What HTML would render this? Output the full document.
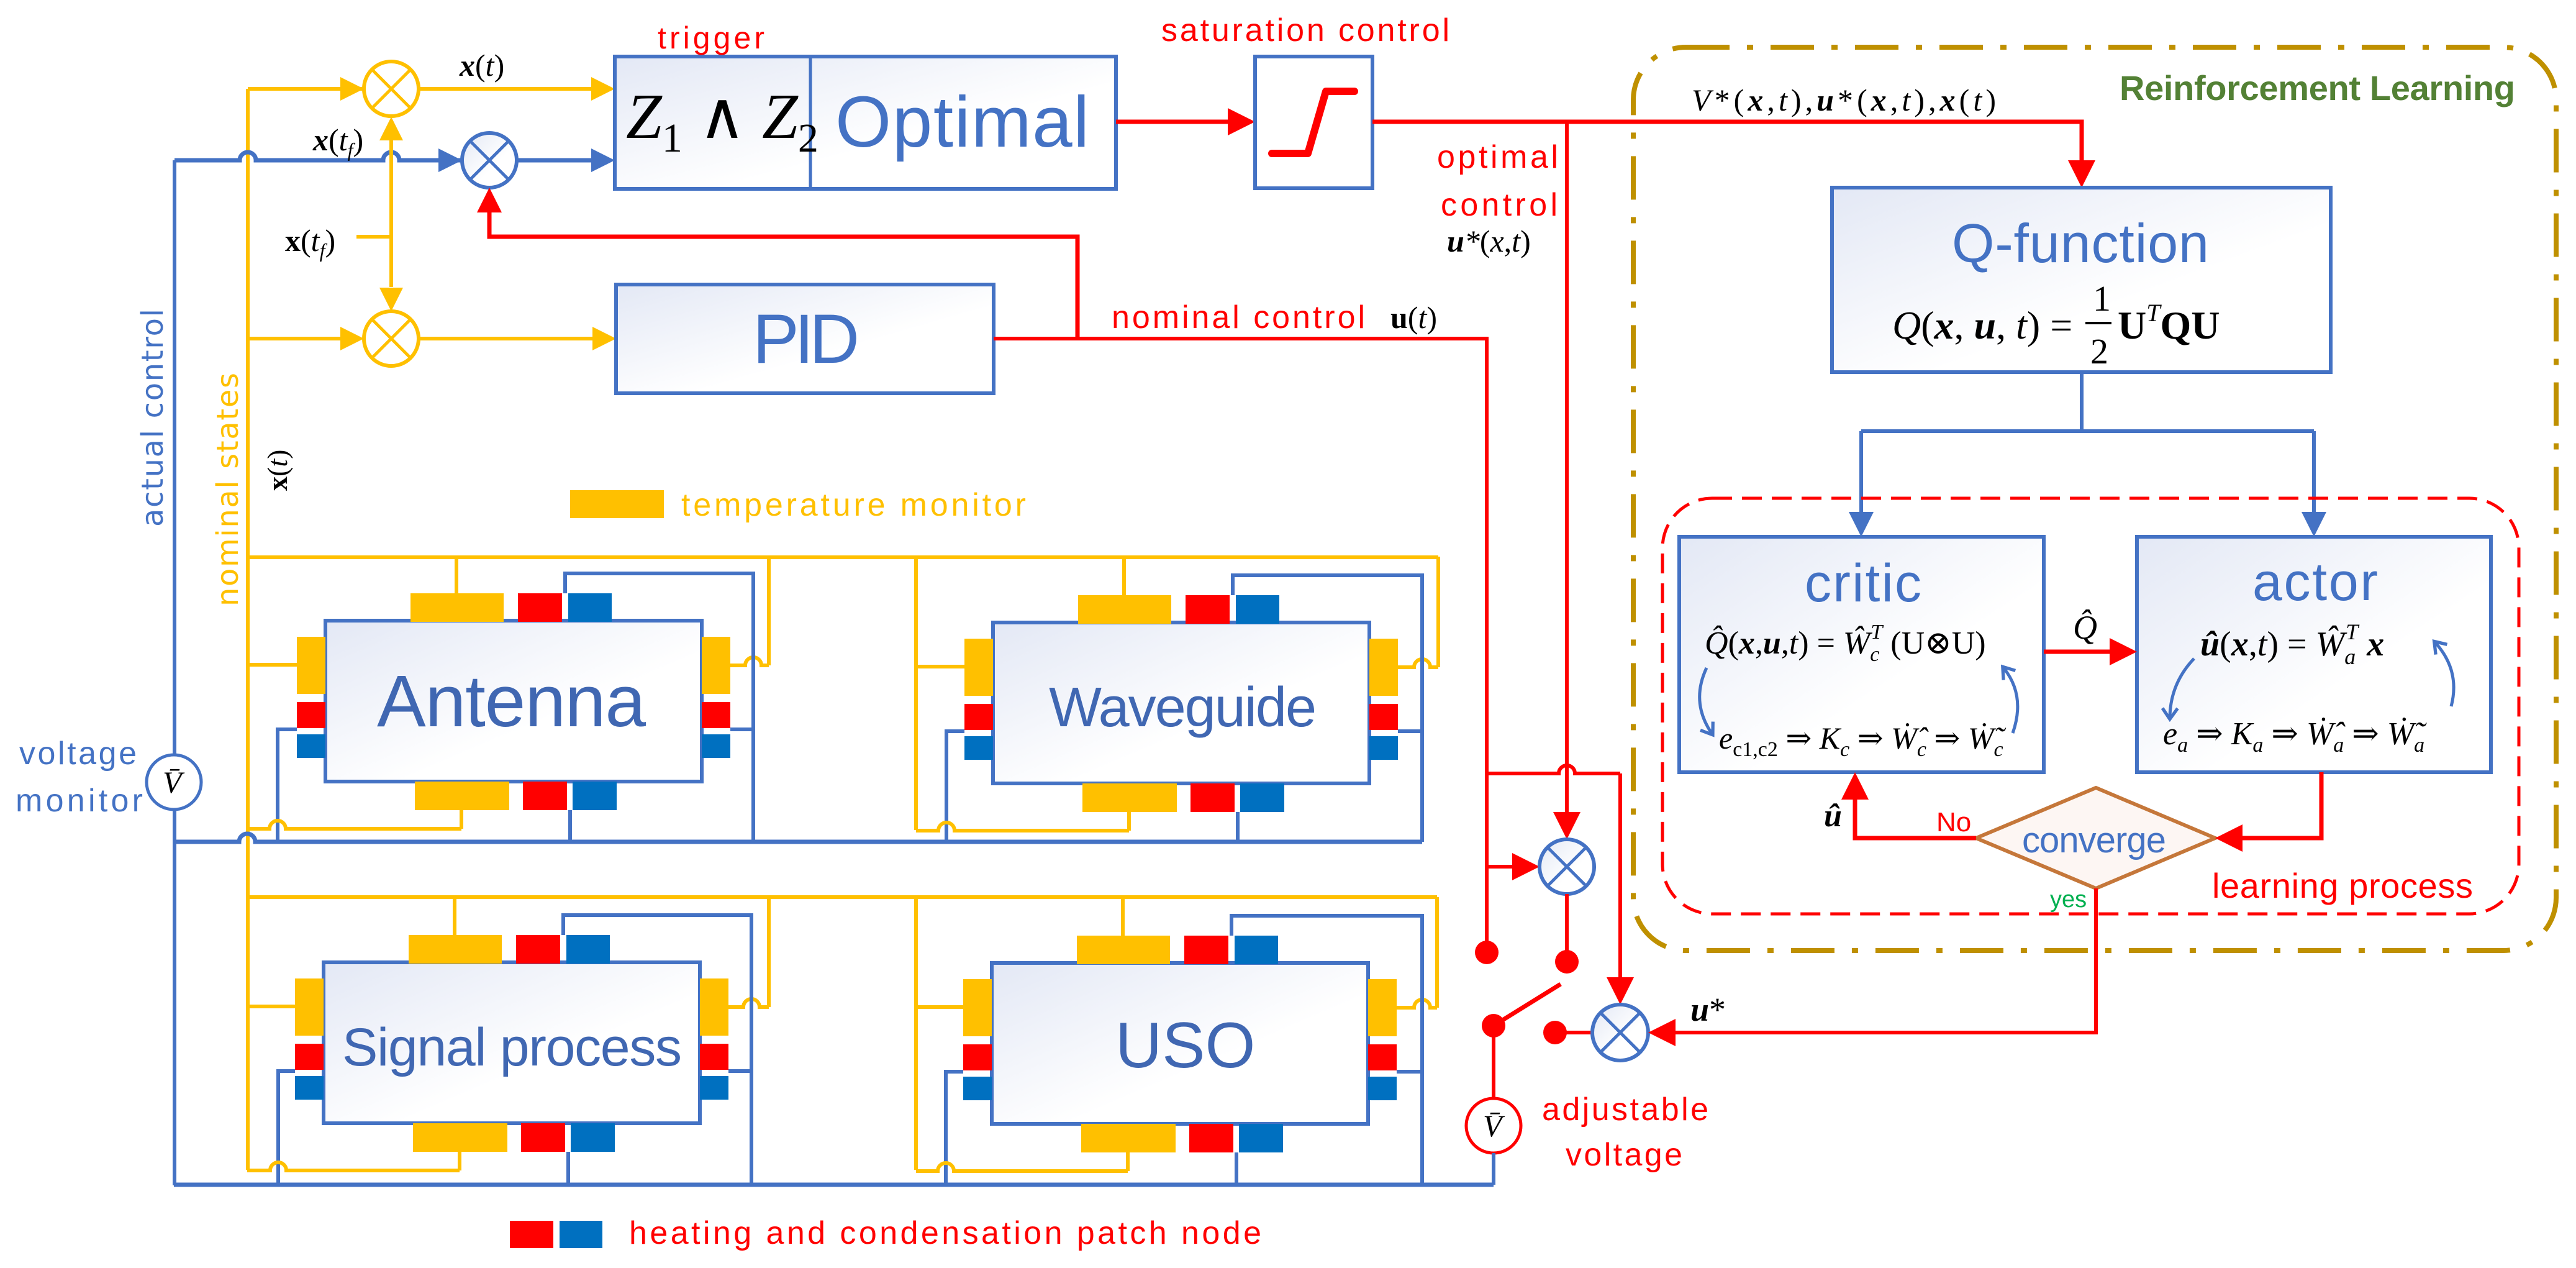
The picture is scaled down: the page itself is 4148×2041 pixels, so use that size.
<!DOCTYPE html>
<html><head><meta charset="utf-8"><style>
html,body{margin:0;padding:0;background:#fff;}
svg{display:block;}
.s{font-family:"Liberation Sans","DejaVu Sans",sans-serif;}
.m{font-family:"Liberation Serif","DejaVu Serif",serif;}
.i{font-style:italic;}
.b{font-weight:bold;}
</style></head><body>
<svg id="g" xmlns="http://www.w3.org/2000/svg" width="4148" height="2041" viewBox="0 0 4148 2041">
<defs>
<linearGradient id="gr" x1="0" y1="0" x2="1" y2="1">
<stop offset="0" stop-color="#E3E8F5"/><stop offset="0.6" stop-color="#FFFFFF"/><stop offset="1" stop-color="#FFFFFF"/>
</linearGradient>
<marker id="ca" viewBox="0 0 20 20" refX="10" refY="10" markerWidth="7" markerHeight="7" orient="auto" markerUnits="strokeWidth">
<path d="M2,3 L12,10 L2,17" fill="none" stroke="#4472C4" stroke-width="3"/></marker>
</defs>
<g id="shapes"></g>

<rect x="821" y="1965" width="70" height="44" fill="#FF0000"/>
<rect x="901" y="1965" width="69" height="44" fill="#0070C0"/>

<g class="s">
<text x="1059" y="78" font-size="50" fill="#FF0000" textLength="172">trigger</text>
<text x="1345" y="236" font-size="116" fill="#4472C4" textLength="409">Optimal</text>
<text x="1212" y="584" font-size="112" fill="#4472C4" textLength="172">PID</text>
<text x="1870" y="66" font-size="52" fill="#FF0000" textLength="464">saturation control</text>
<text x="2314" y="270" font-size="52" fill="#FF0000" textLength="195">optimal</text>
<text x="2320" y="347" font-size="52" fill="#FF0000" textLength="188">control</text>
<text x="1790" y="528" font-size="52" fill="#FF0000" textLength="408">nominal control</text>
<text x="1097" y="830" font-size="52" fill="#FFC000" textLength="555">temperature monitor</text>
<text transform="translate(262,848) rotate(-90)" font-size="48" fill="#4472C4" textLength="351" font-family="DejaVu Sans">actual control</text>
<text transform="translate(383,976) rotate(-90)" font-size="48" fill="#FFC000" textLength="376" font-family="DejaVu Sans">nominal states</text>
<text x="607" y="1169" font-size="118" fill="#4067B2" textLength="433">Antenna</text>
<text x="1689" y="1169" font-size="90" fill="#4067B2" textLength="431">Waveguide</text>
<text x="551" y="1715" font-size="86" fill="#4067B2" textLength="547">Signal process</text>
<text x="1796" y="1718" font-size="104" fill="#4067B2">USO</text>
<text x="31" y="1230" font-size="52" fill="#4472C4" textLength="189">voltage</text>
<text x="25" y="1306" font-size="52" fill="#4472C4" textLength="205">monitor</text>
<text x="1013" y="2002" font-size="52" fill="#FF0000" textLength="1018">heating and condensation patch node</text>
<text x="2483" y="1803" font-size="52" fill="#FF0000" textLength="268">adjustable</text>
<text x="2521" y="1876" font-size="52" fill="#FF0000" textLength="188">voltage</text>
<text x="3413" y="161" font-size="56" fill="#538135" font-weight="bold" textLength="637">Reinforcement Learning</text>
<text x="3143" y="422" font-size="88" fill="#4472C4" textLength="414">Q-function</text>
<text x="2906" y="968" font-size="86" fill="#4472C4" textLength="188">critic</text>
<text x="3627" y="966" font-size="86" fill="#4472C4" textLength="202">actor</text>
<text x="3256" y="1372" font-size="58" fill="#4472C4" textLength="232">converge</text>
<text x="3118" y="1338" font-size="44" fill="#FF0000">No</text>
<text x="3301" y="1460" font-size="38" fill="#00B050">yes</text>
<text x="3562" y="1445" font-size="56" fill="#FF0000" textLength="420">learning process</text>
</g>
<g class="m" fill="#000">
<text x="1008" y="222" font-size="104"><tspan class="i">Z</tspan><tspan font-size="66" dy="22">1</tspan><tspan dy="-22"> ∧ </tspan><tspan class="i">Z</tspan><tspan font-size="66" dy="22">2</tspan></text>
<text x="740" y="122" font-size="50"><tspan class="i b">x</tspan>(<tspan class="i">t</tspan>)</text>
<text x="504" y="242" font-size="50"><tspan class="i b">x</tspan>(<tspan class="i">t</tspan><tspan class="i" font-size="32" dy="10">f</tspan><tspan dy="-10">)</tspan></text>
<text x="459" y="404" font-size="50"><tspan class="b">x</tspan>(<tspan class="i">t</tspan><tspan class="i" font-size="32" dy="10">f</tspan><tspan dy="-10">)</tspan></text>
<text transform="translate(462,790) rotate(-90)" font-size="46"><tspan class="b">x</tspan>(<tspan class="i">t</tspan>)</text>
<text x="2330" y="405" font-size="50"><tspan class="i b">u</tspan><tspan class="i">*</tspan>(<tspan class="i">x</tspan>,<tspan class="i">t</tspan>)</text>
<text x="2239" y="528" font-size="50"><tspan class="b">u</tspan>(<tspan class="i">t</tspan>)</text>
<text x="2724" y="178" font-size="50" textLength="490"><tspan class="i">V</tspan>*(<tspan class="i b">x</tspan>,<tspan class="i">t</tspan>),<tspan class="i b">u</tspan>*(<tspan class="i b">x</tspan>,<tspan class="i">t</tspan>),<tspan class="i b">x</tspan>(<tspan class="i">t</tspan>)</text>
<text x="3047" y="545" font-size="64"><tspan class="i">Q</tspan>(<tspan class="i b">x</tspan>, <tspan class="i b">u</tspan>, <tspan class="i">t</tspan>) =</text>
<text x="3370" y="500" font-size="58">1</text>
<line x1="3358" y1="520" x2="3400" y2="520" stroke="#000" stroke-width="4"/>
<text x="3366" y="585" font-size="58">2</text>
<text x="3410" y="545" font-size="64"><tspan class="b">U</tspan><tspan class="i" font-size="40" dy="-28">T</tspan><tspan class="b" dy="28">QU</tspan></text>
<text x="2745" y="1052" font-size="52"><tspan class="i">Q̂</tspan>(<tspan class="i b">x</tspan>,<tspan class="i b">u</tspan>,<tspan class="i">t</tspan>) = <tspan class="i">Ŵ</tspan><tspan class="i" font-size="34" dy="12">c</tspan><tspan class="i" font-size="34" dy="-36" dx="-14">T</tspan><tspan dy="24"> (U⊗U)</tspan></text>
<text x="2768" y="1205" font-size="50"><tspan class="i">e</tspan><tspan font-size="34" dy="12">c1,c2</tspan><tspan dy="-12"> ⇒ </tspan><tspan class="i">K</tspan><tspan class="i" font-size="34" dy="12">c</tspan><tspan dy="-12"> ⇒ </tspan><tspan class="i">Ẇ̂</tspan><tspan class="i" font-size="34" dy="12">c</tspan><tspan dy="-12"> ⇒ </tspan><tspan class="i">Ẇ̃</tspan><tspan class="i" font-size="34" dy="12">c</tspan></text>
<text x="3543" y="1055" font-size="56"><tspan class="i b">û</tspan>(<tspan class="i b">x</tspan>,<tspan class="i">t</tspan>) = <tspan class="i">Ŵ</tspan><tspan class="i" font-size="36" dy="14">a</tspan><tspan class="i" font-size="36" dy="-40" dx="-16">T</tspan><tspan class="i b" dy="26"> x</tspan></text>
<text x="3483" y="1198" font-size="52"><tspan class="i">e</tspan><tspan class="i" font-size="34" dy="12">a</tspan><tspan dy="-12"> ⇒ </tspan><tspan class="i">K</tspan><tspan class="i" font-size="34" dy="12">a</tspan><tspan dy="-12"> ⇒ </tspan><tspan class="i">Ẇ̂</tspan><tspan class="i" font-size="34" dy="12">a</tspan><tspan dy="-12"> ⇒ </tspan><tspan class="i">Ẇ̃</tspan><tspan class="i" font-size="34" dy="12">a</tspan></text>
<text x="3338" y="1028" font-size="54" class="i">Q̂</text>
<text x="2937" y="1330" font-size="52" class="i b">û</text>
<text x="2722" y="1643" font-size="54"><tspan class="i b">u</tspan>*</text>
<text x="262" y="1276" font-size="50" class="i">V̄</text>
<text x="2388" y="1829" font-size="50" class="i">V̄</text>
</g>
</svg>
<script>
(function(){
var G=document.getElementById('shapes'),NS='http://www.w3.org/2000/svg';
var B='#4472C4',Y='#FFC000',R='#FF0000',PB='#0070C0';
function el(t,a){var e=document.createElementNS(NS,t);for(var k in a)e.setAttribute(k,a[k]);G.appendChild(e);return e;}
function L(pts,c,w){el('polyline',{points:pts.map(function(p){return p.join(',')}).join(' '),fill:'none',stroke:c,'stroke-width':w||6,'stroke-linejoin':'miter'});}
function rect(x,y,w,h,f,s,sw){el('rect',{x:x,y:y,width:w,height:h,fill:f,stroke:s||'none','stroke-width':sw||0});}
function A(x,y,d,c,s){s=s||40;var h=s/2,p;
 if(d=='r')p=[[x,y],[x-s,y-h],[x-s,y+h]];else if(d=='l')p=[[x,y],[x+s,y-h],[x+s,y+h]];
 else if(d=='d')p=[[x,y],[x-h,y-s],[x+h,y-s]];else p=[[x,y],[x-h,y+s],[x+h,y+s]];
 el('polygon',{points:p.map(function(q){return q.join(',')}).join(' '),fill:c});}
function hH(x1,x2,y,hops,c,w){var d='M'+x1+','+y;hops.sort(function(a,b){return a-b});
 hops.forEach(function(h){d+=' L'+(h-13)+','+y+' A13,13 0 0 1 '+(h+13)+','+y;});d+=' L'+x2+','+y;
 el('path',{d:d,fill:'none',stroke:c,'stroke-width':w||6});}
function circX(cx,cy,r,c,fill){el('circle',{cx:cx,cy:cy,r:r,fill:fill||'url(#gr)',stroke:c,'stroke-width':6});
 var k=r*0.707;L([[cx-k,cy-k],[cx+k,cy+k]],c,5);L([[cx-k,cy+k],[cx+k,cy-k]],c,5);}
function dot(x,y){el('circle',{cx:x,cy:y,r:19,fill:R});}

function dev(bx,by,Yl,Ytop,Bbot,Bl,Br,Yr){
 var W=606,H=259;
 L([[bx+211,Ytop],[bx+211,by-44]],Y,6);
 L([[bx-46,by+71],[Yl,by+71]],Y,6);
 L([[Yr,Ytop],[Yr,by+72]],Y,6);
 hH(bx+652,Yr,by+72,[Br],Y,6);
 L([[bx+386,by-44],[bx+386,by-76],[Br,by-76],[Br,Bbot]],B,6);
 L([[bx+652,by+175],[Br,by+175]],B,6);
 L([[bx-46,by+175],[Bl,by+175],[Bl,Bbot]],B,6);
 L([[bx+219,by+305],[bx+219,by+335]],Y,6);
 hH(Yl,bx+219,by+335,[Bl],Y,6);
 L([[bx+394,by+305],[bx+394,Bbot]],B,6);
 rect(bx,by,W,H,'url(#gr)',B,6);
 rect(bx+137,by-44,150,46,Y);rect(bx+310,by-44,71,46,R);rect(bx+391,by-44,70,46,PB);
 rect(bx+144,by+259,152,46,Y);rect(bx+318,by+259,71,46,R);rect(bx+398,by+259,71,46,PB);
 [bx-46,bx+W].forEach(function(x){rect(x,by+26,46,92,Y);rect(x,by+131,46,42,R);rect(x,by+183,46,38,PB);});
}
L([[399,143],[399,1883]],Y,6);
L([[281,258],[281,1215]],B,6);L([[281,1303],[281,1908]],B,6);
hH(281,2290,1355,[398],B,7);
L([[280,1907],[2405,1907]],B,7);
L([[398,897],[2316,897]],Y,6);
L([[398,1444],[2314,1444]],Y,6);
L([[1475,896],[1475,1336]],Y,6);
L([[1475,1444],[1475,1883]],Y,6);
dev(524,999,398,897,1355,447,1213,1238);
dev(1599,1002,1475,896,1355,1524,2290,2316);
dev(521,1549,398,1444,1907,448,1210,1238);
dev(1597,1550,1475,1444,1907,1523,2290,2314);

el('circle',{cx:280,cy:1259,r:44,fill:'#fff',stroke:B,'stroke-width':5});

L([[399,143],[590,143]],Y,6);A(586,143,'r',Y,38);
circX(630,143,44,Y,'#fff');
L([[674,143],[955,143]],Y,6);A(990,143,'r',Y,38);
hH(281,750,258,[399,630],B,7);A(744,258,'r',B,38);
circX(788,258,44,B);
L([[832,258],[955,258]],B,7);A(990,258,'r',B,38);
L([[630,226],[630,462]],Y,6);A(630,188,'u',Y,38);A(630,501,'d',Y,38);
L([[574,381],[630,381]],Y,6);
L([[1735,545],[1735,381],[788,381],[788,340]],R,7);A(788,302,'u',R,40);
L([[399,545],[550,545]],Y,6);A(586,545,'r',Y,38);
circX(630,545,44,Y,'#fff');
L([[674,545],[955,545]],Y,6);A(992,545,'r',Y,38);
rect(990,91,807,213,'url(#gr)',B,6);L([[1305,91],[1305,304]],B,5);
rect(992,458,608,175,'url(#gr)',B,6);
rect(918,789,151,45,Y);
L([[1797,196],[1985,196]],R,7);A(2021,196,'r',R,44);
rect(2021,91,189,212,'#fff',B,6);
el('polyline',{points:'2048,247 2106,247 2135,147 2181,147',fill:'none',stroke:R,'stroke-width':12,'stroke-linecap':'round','stroke-linejoin':'round'});
L([[2210,196],[3352,196],[3352,262]],R,7);A(3352,302,'d',R,44);
L([[2523,196],[2523,1310]],R,6);A(2523,1351,'d',R,44);
L([[1600,545],[2394,545],[2394,1532]],R,6);
dot(2394,1533);
hH(2394,2609,1245,[2523],R,6);
L([[2609,1245],[2609,1580]],R,6);A(2609,1617,'d',R,44);
L([[2394,1395],[2445,1395]],R,6);A(2479,1395,'r',R,44);
circX(2523,1395,44,B);
L([[2523,1439],[2523,1548]],R,6);dot(2523,1548);
dot(2405,1651);L([[2405,1651],[2513,1584]],R,7);
dot(2504,1662);L([[2504,1662],[2564,1662]],R,6);
circX(2609,1662,45,B);
L([[2405,1651],[2405,1768]],R,6);
el('circle',{cx:2405,cy:1812,r:44,fill:'none',stroke:R,'stroke-width':5});
L([[2405,1856],[2405,1907]],B,6);

el('rect',{x:2630,y:76,width:1486,height:1454,rx:85,fill:'none',stroke:'#BF9000','stroke-width':8,'stroke-dasharray':'70 28 10 28'});
rect(2950,302,803,297,'url(#gr)',B,6);
L([[3352,599],[3352,694]],B,6);L([[2997,694],[3726,694]],B,6);
L([[2997,694],[2997,830]],B,6);A(2997,864,'d',B,40);
L([[3726,694],[3726,830]],B,6);A(3726,864,'d',B,40);
el('rect',{x:2677,y:802,width:1379,height:669,rx:80,fill:'none',stroke:R,'stroke-width':5,'stroke-dasharray':'32 16'});
rect(2704,864,587,379,'url(#gr)',B,6);
rect(3441,864,570,379,'url(#gr)',B,6);
L([[3291,1049],[3405,1049]],R,7);A(3441,1049,'r',R,44);
['M2748,1075 Q2722,1130 2756,1180','M3241,1180 Q3262,1120 3227,1076','M3533,1060 Q3495,1100 3494,1154','M3947,1137 Q3962,1080 3922,1035'].forEach(function(d){
 el('path',{d:d,fill:'none',stroke:B,'stroke-width':5,'marker-end':'url(#ca)'});});
el('polygon',{points:'3182,1349 3375,1268 3567,1349 3375,1430',fill:'#FDF6F3',stroke:'#C5773A','stroke-width':6});
L([[3738,1243],[3738,1349],[3605,1349]],R,7);A(3567,1349,'l',R,44);
L([[3182,1349],[2987,1349],[2987,1282]],R,7);A(2987,1243,'u',R,44);
L([[3375,1430],[3375,1662],[2692,1662]],R,6);A(2654,1662,'l',R,44);
})();
</script>
</body></html>
